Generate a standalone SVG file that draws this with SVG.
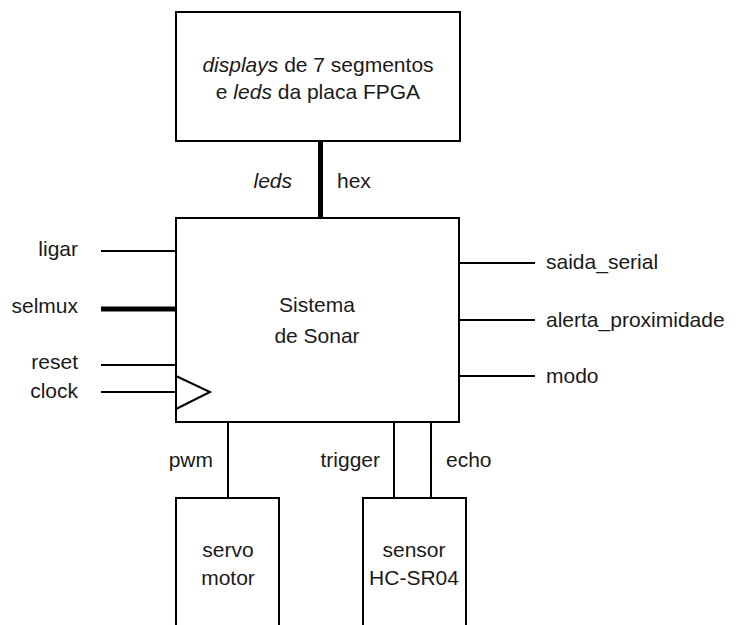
<svg xmlns="http://www.w3.org/2000/svg" width="739" height="625" viewBox="0 0 739 625">
<style>
.box{fill:#fff;stroke:#000;stroke-width:2}
.w{stroke:#000;stroke-width:2;fill:none}
.bus{stroke:#000;stroke-width:5;fill:none}
text{font-family:"Liberation Sans",Arial,sans-serif;font-size:21px;fill:#1a1a1a}
.m{text-anchor:middle}
.e{text-anchor:end}
.i{font-style:italic}
</style>
<rect width="739" height="625" fill="#fff"/>
<g id="connectors">
<line class="bus" x1="320.5" y1="141" x2="320.5" y2="218"/>
<line class="w" x1="101" y1="251" x2="176" y2="251"/>
<line class="bus" x1="101" y1="309" x2="176" y2="309"/>
<line class="w" x1="101" y1="365" x2="176" y2="365"/>
<line class="w" x1="101" y1="392" x2="176" y2="392"/>
<line class="w" x1="459" y1="263" x2="535" y2="263"/>
<line class="w" x1="459" y1="320" x2="535" y2="320"/>
<line class="w" x1="459" y1="376" x2="535" y2="376"/>
<line class="w" x1="228" y1="422" x2="228" y2="498"/>
<line class="w" x1="394" y1="422" x2="394" y2="498"/>
<line class="w" x1="431" y1="422" x2="431" y2="498"/>
<text class="e i" x="292" y="188">leds</text>
<text x="337" y="188">hex</text>
<text class="e" x="78" y="256">ligar</text>
<text class="e" x="78" y="313">selmux</text>
<text class="e" x="78" y="369">reset</text>
<text class="e" x="78" y="398">clock</text>
<text x="546" y="269">saida_serial</text>
<text x="546" y="327">alerta_proximidade</text>
<text x="546" y="383">modo</text>
<text class="e" x="213" y="467">pwm</text>
<text class="e" x="380" y="467">trigger</text>
<text x="446" y="467">echo</text>
</g>
<g id="display">
<rect class="box" x="176" y="12" width="284" height="129"/>
<text class="m" x="318" y="72"><tspan class="i">displays</tspan> de 7 segmentos</text>
<text class="m" x="318" y="99">e <tspan class="i">leds</tspan> da placa FPGA</text>
</g>
<g id="sonar">
<rect class="box" x="176" y="218" width="283" height="204"/>
<polyline class="w" points="176,376 210,392 176,409"/>
<text class="m" x="317" y="312">Sistema</text>
<text class="m" x="317" y="343">de Sonar</text>
</g>
<g id="servo">
<rect class="box" x="176" y="498" width="103" height="140"/>
<text class="m" x="228" y="557">servo</text>
<text class="m" x="228" y="585">motor</text>
</g>
<g id="sensor">
<rect class="box" x="363" y="498" width="103" height="140"/>
<text class="m" x="414" y="557">sensor</text>
<text class="m" x="414" y="585">HC-SR04</text>
</g>
</svg>
